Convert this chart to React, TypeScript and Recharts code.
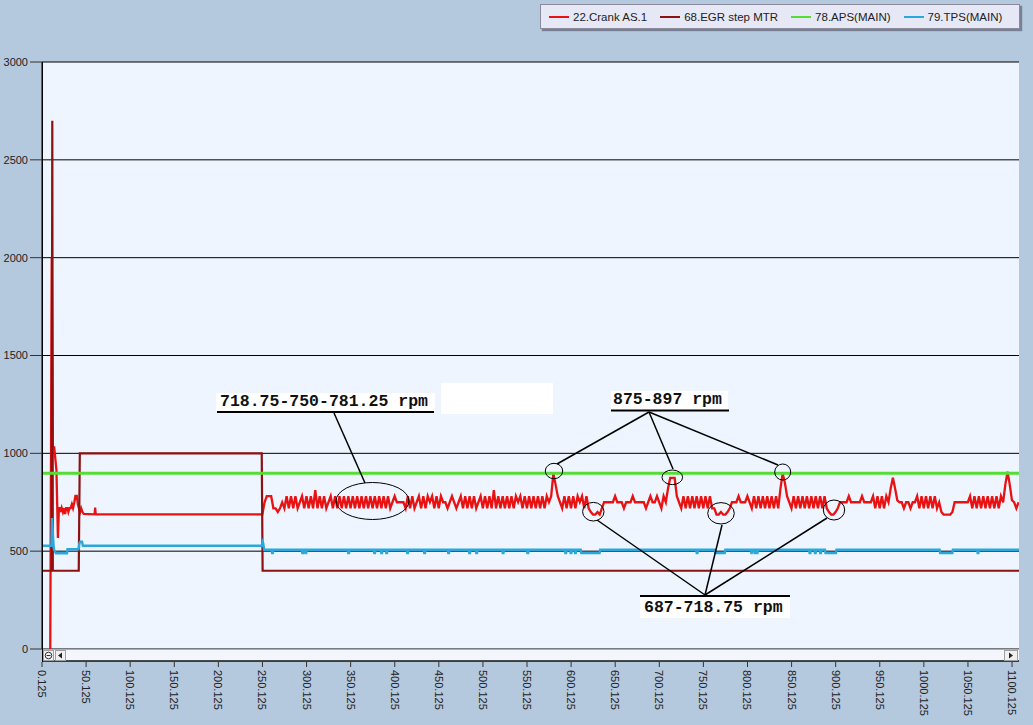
import React from "react";
import { LineChart, Line, XAxis, YAxis, CartesianGrid, Legend } from "recharts";

// axis ticks
const xTicks = [
  0.125, 50.125, 100.125, 150.125, 200.125, 250.125, 300.125, 350.125, 400.125,
  450.125, 500.125, 550.125, 600.125, 650.125, 700.125, 750.125, 800.125,
  850.125, 900.125, 950.125, 1000.125, 1050.125, 1100.125,
];
const yTicks = [0, 500, 1000, 1500, 2000, 2500, 3000];

// 22.Crank AS.1 - start-up part (time, rpm)
const crankStartTime = [
  9.5, 11.2, 12.3, 14, 15.5, 16.5, 18.2, 19.3, 20.5, 21.5, 22.5, 23.8, 25, 26.3,
  27.5, 29, 30, 31.3, 32.6, 34, 35.3, 36.8, 38, 39.6, 40.8, 42, 43.3, 44.5, 46,
  47.5, 59.8, 60.4, 61, 249,
];
const crankStartValue = [
  0, 2000, 1030, 1030, 960, 915, 567, 720, 720, 700, 720, 700, 720, 690, 720,
  720, 700, 720, 720, 740, 720, 750, 782, 782, 740, 720, 700, 720, 700, 690,
  688, 723, 688, 688,
];

// 22.Crank AS.1 - idle part, one sample every 2.5 s from 250 s
const CRANK_IDLE_T0 = 250;
const CRANK_IDLE_STEP = 2.5;
const crankIdle = [
  688, 750, 781, 781, 781, 719, 719, 700, 719, 750, 719, 781, 719,
  781, 719, 781, 719, 750, 781, 719, 781, 719, 781,
  719, 812, 719, 781, 719, 781, 719, 750, 781, 719,
  781, 719, 781, 719, 781, 719, 781, 719, 781, 719,
  781, 719, 781, 719, 781, 719, 781, 719, 781, 719,
  781, 719, 781, 719, 781, 719, 750, 781, 750, 750,
  750, 750, 719, 781, 719, 781, 719, 750, 781, 719,
  781, 719, 781, 750, 781, 719, 781, 719, 781, 750,
  750, 719, 750, 781, 750, 719, 750, 781, 719, 781,
  719, 781, 719, 781, 719, 750, 781, 719, 781, 719,
  781, 719, 812, 719, 781, 719, 781, 719, 781, 719,
  781, 719, 781, 750, 781, 719, 781, 719, 781, 719,
  781, 719, 781, 719, 781, 719, 781, 750,
  781, 897, 840, 781, 750, 719,
  781, 719, 781, 719, 781, 719, 781, 750, 781, 719, 781, 719,
  700, 687, 687, 700, 687, 719,
  750, 750, 750, 750, 750, 781, 750, 750, 750, 719,
  750, 750, 750, 781, 750, 750, 750, 750, 750, 719,
  750, 781, 750, 750, 781, 750, 719, 781,
  750, 820, 875, 875, 875, 781, 750,
  719, 781, 719, 781, 719, 781, 719, 781, 719, 781, 719, 781, 719, 781, 719,
  719, 687, 687, 700, 687, 687, 700, 719,
  750, 750, 750, 781, 750, 750, 750, 781, 750, 719,
  781, 719, 781, 719, 781, 719, 781, 719, 781, 719, 781, 719,
  820, 897, 850, 781, 750,
  719, 781, 719, 781, 719, 781, 719, 781, 719, 781, 719, 781, 719, 781, 719, 781, 719,
  700, 687, 687, 700, 719,
  750, 750, 750, 750, 781, 750, 750, 750, 750, 750, 781, 750, 750, 750, 750,
  781, 719, 781, 719, 781, 719, 781, 750,
  820, 875, 820, 760,
  750, 750, 719, 750, 750, 719, 750, 750,
  781, 719, 781, 719, 781, 719, 781, 719, 781, 719, 750,
  700, 687, 687, 687, 687, 700,
  750, 750, 750, 750, 750, 750, 750,
  781, 719, 781, 719, 781, 719, 781, 719, 781, 719, 781, 719, 781, 719, 781,
  750, 840, 906, 840, 760, 750, 719, 750,
];

// 68.EGR step MTR
const egrTime = [0.125, 11, 11.8, 12.4, 41.8, 43, 249.3, 250.3, 1108];
const egrValue = [400, 400, 2700, 400, 400, 1000, 1000, 400, 400];

// 78.APS(MAIN)
const apsTime = [0.125, 1108];
const apsValue = [898, 898];

// 79.TPS(MAIN) - start-up part, then idle level with short dips
const tpsStartTime = [
  0.125, 10.8, 11.5, 12.3, 13.5, 15, 16, 28.5, 29, 41.5, 42.5, 43.5, 45.5, 46.5,
  249.5, 250.2, 251, 252,
];
const tpsStartValue = [
  528, 528, 669, 600, 510, 497, 489, 489, 510, 510, 540, 548, 548, 528, 528, 548,
  540, 507,
];
const TPS_IDLE = 507;
const TPS_DIP = 490;
const tpsDips = [
  [260.5, 262.5], [294.7, 296.7], [298.3, 300.3], [346.8, 348.8], [376.3, 378.3],
  [384.3, 386.3], [390, 392], [413.7, 415.7], [433, 435], [460.2, 462.2],
  [484, 486], [492, 494], [522, 524], [550, 552], [593, 595], [599, 601],
  [604, 606], [611, 633], [742, 744], [763, 775], [804, 805.5], [807.5, 809],
  [810.5, 812], [870, 872], [876, 878], [882, 884], [888, 901], [1018, 1033],
  [1060.5, 1062.5],
];

const series = [
  { name: "22.Crank AS.1", color: "#E81212", width: 2.3 },
  { name: "68.EGR step MTR", color: "#8C1212", width: 2.2 },
  { name: "78.APS(MAIN)", color: "#55DD33", width: 3 },
  { name: "79.TPS(MAIN)", color: "#2AA8DC", width: 2.4 },
];

const zip = (ts: number[], vs: number[]) => ts.map((t, i) => ({ t, v: vs[i] }));

const crankData = [
  ...zip(crankStartTime, crankStartValue),
  ...crankIdle.map((v, i) => ({ t: CRANK_IDLE_T0 + i * CRANK_IDLE_STEP, v })),
];
const egrData = zip(egrTime, egrValue);
const apsData = zip(apsTime, apsValue);
const tpsData = [
  ...zip(tpsStartTime, tpsStartValue),
  ...tpsDips.flatMap(([a, b]) => [
    { t: a, v: TPS_IDLE },
    { t: a + 0.6, v: TPS_DIP },
    { t: b - 0.6, v: TPS_DIP },
    { t: b, v: TPS_IDLE },
  ]),
  { t: 1108, v: TPS_IDLE },
];
const seriesData = [crankData, egrData, apsData, tpsData];

const BG = "#B4C8DE";
const FONT = '"Liberation Sans", Arial, sans-serif';
const MONO = '"Liberation Mono", "Courier New", monospace';

const XTick = (props: any) => {
  const { x, y, payload } = props;
  return (
    <g>
      <line x1={x} x2={x} y1={y + 13} y2={y + 18} stroke="#333" />
      <text
        transform={`translate(${x - 4},${y + 21}) rotate(90)`}
        fontSize={11}
        fill="#222"
        fontFamily={FONT}
      >
        {String(payload.value)}
      </text>
    </g>
  );
};

const renderLegend = () => (
  <div
    style={{
      width: 480,
      height: 25,
      background: "#E6E8F5",
      border: "1px solid #8A8A9A",
      boxShadow: "2px 2px 1px rgba(70,70,90,0.55)",
      display: "flex",
      alignItems: "center",
      gap: 13,
      paddingLeft: 8,
      boxSizing: "border-box",
      fontFamily: FONT,
      fontSize: 11.5,
      color: "#222",
    }}
  >
    {series.map((s) => (
      <span key={s.name} style={{ display: "flex", alignItems: "center", whiteSpace: "nowrap" }}>
        <span style={{ width: 20, height: 2, background: s.color, marginRight: 4, display: "block" }} />
        {s.name}
      </span>
    ))}
  </div>
);

const Annotations = () => (
  <svg
    width={1033}
    height={725}
    style={{ position: "absolute", left: 0, top: 0, pointerEvents: "none", zIndex: 2 }}
  >
    {/* scroll bar under the plot */}
    <rect x={43} y={649.5} width={976} height={11.5} fill="#F3F7FD" />
    <line x1={42} x2={1019} y1={661} y2={661} stroke="#111" strokeWidth={1.5} />
    <line x1={42.5} x2={42.5} y1={62} y2={662} stroke="#000" />
    <rect x={43.5} y={650.5} width={10} height={10} fill="#F0F0F0" stroke="#A0A0A0" />
    <circle cx={48.5} cy={655.5} r={3.3} fill="none" stroke="#333" />
    <line x1={46.5} x2={50.5} y1={655.5} y2={655.5} stroke="#333" />
    <rect x={55.5} y={650.5} width={10} height={10} fill="#F0F0F0" stroke="#A0A0A0" />
    <polygon points="58,655.5 62,652.5 62,658.5" fill="#222" />
    <rect x={1004.5} y={650.5} width={13} height={10} fill="#F0F0F0" stroke="#A0A0A0" />
    <polygon points="1013,655.5 1009,652.5 1009,658.5" fill="#222" />

    {/* first label */}
    <rect x={216} y={393} width={219} height={18} fill="#FFFFFF" />
    <text x={220} y={406} fontFamily={MONO} fontWeight="bold" fontSize={16.5} fill="#111">
      718.75-750-781.25 rpm
    </text>
    <line x1={217} x2={434} y1={412} y2={412} stroke="#000" strokeWidth={2} />
    <line x1={334} y1={413} x2={365} y2={483} stroke="#000" strokeWidth={1.5} />
    <ellipse cx={372.5} cy={501} rx={36.5} ry={18.5} fill="none" stroke="#000" strokeWidth={1} />
    <rect x={441} y={383} width={112} height={31} fill="#FFFFFF" />

    {/* peaks label */}
    <rect x={611} y={391} width={117} height={19} fill="#FFFFFF" />
    <text x={613} y={404} fontFamily={MONO} fontWeight="bold" fontSize={16.5} fill="#111">
      875-897 rpm
    </text>
    <line x1={611} x2={729} y1={410.5} y2={410.5} stroke="#000" strokeWidth={2} />
    <line x1={649} y1={412} x2={557} y2={464} stroke="#000" strokeWidth={1.5} />
    <line x1={649} y1={412} x2={673} y2={469} stroke="#000" strokeWidth={1.5} />
    <line x1={649} y1={412} x2={778} y2={465} stroke="#000" strokeWidth={1.5} />
    <ellipse cx={554} cy={471} rx={8.7} ry={7.7} fill="none" stroke="#000" />
    <ellipse cx={672.3} cy={477.3} rx={10.3} ry={7.3} fill="none" stroke="#000" />
    <ellipse cx={782.7} cy={472} rx={8} ry={8} fill="none" stroke="#000" />

    {/* dips label */}
    <rect x={640} y={596} width={150} height={22} fill="#FFFFFF" />
    <line x1={640} x2={790} y1={596} y2={596} stroke="#000" strokeWidth={2} />
    <text x={644} y={612} fontFamily={MONO} fontWeight="bold" fontSize={16.5} fill="#111">
      687-718.75 rpm
    </text>
    <line x1={705} y1={595} x2={597} y2={520} stroke="#000" strokeWidth={1.5} />
    <line x1={705} y1={595} x2={722} y2={525} stroke="#000" strokeWidth={1.5} />
    <line x1={705} y1={595} x2={827} y2={518} stroke="#000" strokeWidth={1.5} />
    <ellipse cx={593.3} cy={511.7} rx={10.7} ry={9.3} fill="none" stroke="#000" />
    <ellipse cx={721} cy={513.3} rx={13.3} ry={10.7} fill="none" stroke="#000" />
    <ellipse cx={834} cy={510} rx={10.7} ry={10} fill="none" stroke="#000" />
  </svg>
);

export default function App() {
  return (
    <div
      style={{
        position: "relative",
        width: 1033,
        height: 725,
        background: BG,
        overflow: "hidden",
        fontFamily: FONT,
      }}
    >
      <style>{"body{margin:0}"}</style>
      {/* chart ends where the plot box ends; the legend overhangs it */}
      <LineChart
        width={1019}
        height={725}
        margin={{ top: 62, right: 0, bottom: 0, left: 0 }}
      >
        <CartesianGrid vertical={false} stroke="#000" fill="#EEF5FE" fillOpacity={1} />
        <XAxis
          type="number"
          dataKey="t"
          domain={[0.125, 1108]}
          ticks={xTicks}
          interval={0}
          allowDataOverflow
          axisLine={false}
          tickLine={false}
          tickSize={0}
          tickMargin={0}
          height={76}
          tick={(p: any) => <XTick {...p} />}
        />
        <YAxis
          type="number"
          domain={[0, 3000]}
          ticks={yTicks}
          interval={0}
          allowDataOverflow
          width={42}
          tickSize={12}
          tickMargin={2}
          axisLine={{ stroke: "#000" }}
          tickLine={{ stroke: "#333" }}
          tick={{ fontSize: 11, fill: "#222", fontFamily: FONT }}
        />
        {series.map((s, i) => (
          <Line
            key={s.name}
            name={s.name}
            data={seriesData[i]}
            dataKey="v"
            type="linear"
            stroke={s.color}
            strokeWidth={s.width}
            dot={false}
            activeDot={false}
            isAnimationActive={false}
          />
        ))}
        <Legend
          content={renderLegend}
          layout="vertical"
          align="center"
          verticalAlign="middle"
          wrapperStyle={{ top: 4, left: 540, width: 482, height: 27 }}
        />
      </LineChart>
      <Annotations />
    </div>
  );
}
